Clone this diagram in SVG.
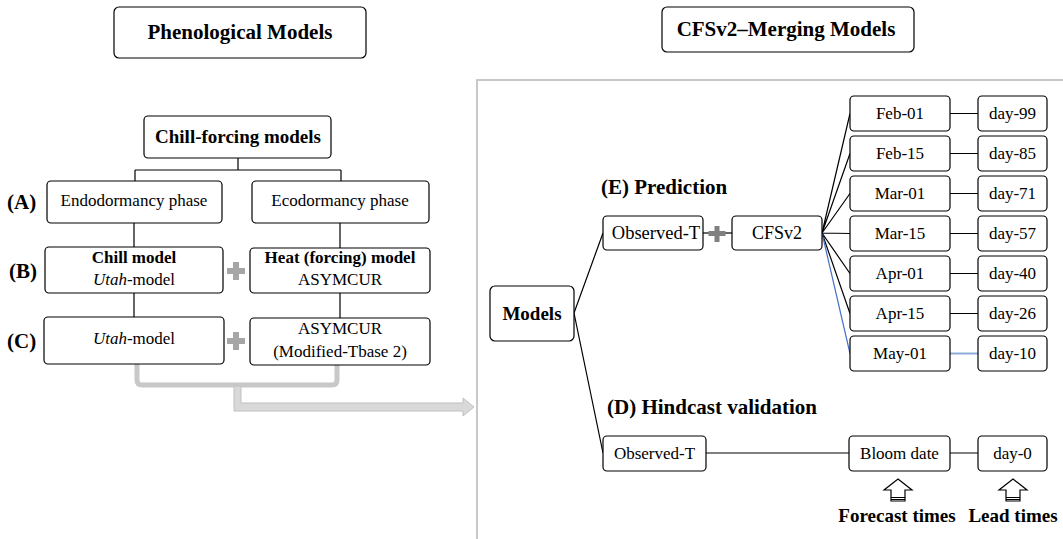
<svg xmlns="http://www.w3.org/2000/svg" width="1063" height="539" viewBox="0 0 1063 539" font-family="'Liberation Serif', 'Times New Roman', Tinos, serif">
<style>
text{font-family:'Liberation Serif','Times New Roman',Tinos,serif}
.box{fill:#fff;stroke:#000;stroke-width:1.2}
.t{font-size:17px;fill:#000;text-anchor:middle}
.b{font-weight:bold}
.s18{font-size:18px}
.s19{font-size:19px}
.s21{font-size:21px}
.lbl{font-size:21px;font-weight:bold;fill:#000}
.ln{stroke:#000;stroke-width:1.2;fill:none}
.blue{stroke:#4472c4;stroke-width:1.2;fill:none}
.lblue{stroke:#8eaadb;stroke-width:2;fill:none}
.plus{fill:#a6a6a6}
.plus2{fill:#808080}
</style>
<rect width="1063" height="539" fill="#fff"/>

<g id="panel-border">
<path d="M477,539 V80 H1063" fill="none" stroke="#c8c8c8" stroke-width="2"/>
</g>

<g id="connectors">
<path class="ln" d="M238,158 V170 M135,170 H341 M135,170 V181 M341,170 V181"/>
<path class="ln" d="M134,223 V247 M340,223 V248 M134,293 V317 M340,293 V318"/>
<path d="M137,364 V380 Q137,385 142,385 H332 Q337,385 337,380 V364" fill="none" stroke="#c8c8c8" stroke-width="5"/>
<path d="M234,386 H241 V403 H463 V398 L474,407 L463,416 V411 H234 Z" fill="#d9d9d9" stroke="#c0c0c0" stroke-width="1"/>
<path class="ln" d="M574,313 L603,233 M574,313 L603,453"/>
<path class="ln" d="M703,233 H732"/>
<path class="ln" d="M822,233 L850,113.5 M822,233 L850,153.5 M822,233 L850,193.5 M822,233 L850,233.5 M822,233 L850,273.5 M822,233 L850,313.5"/>
<path class="blue" d="M822,233 L850,353.5"/>
<path class="ln" d="M950,113.5 H978 M950,153.5 H978 M950,193.5 H978 M950,233.5 H978 M950,273.5 H978 M950,313.5 H978"/>
<path class="lblue" d="M950,353.5 H978"/>
<path class="ln" d="M706,453 H849 M950,453 H978"/>
</g>

<g id="plus-signs">
<path class="plus" d="M233,262 h6 v6 h6 v6 h-6 v6 h-6 v-6 h-6 v-6 h6 z"/>
<path class="plus" d="M233,332 h6 v6 h6 v6 h-6 v6 h-6 v-6 h-6 v-6 h6 z"/>
<path class="plus2" d="M714.5,226 h5 v5 h6 v5 h-6 v6 h-5 v-6 h-6 v-5 h6 z"/>
</g>

<g id="phenological-models">
<rect class="box" x="114" y="7" width="252" height="51" rx="5"/>
<text class="t b s21" x="240" y="39">Phenological Models</text>
</g>

<g id="cfsv2-merging-models">
<rect class="box" x="662" y="7" width="252" height="45" rx="5"/>
<text class="t b s21" x="786" y="36">CFSv2–Merging Models</text>
</g>

<g id="chill-forcing">
<rect class="box" x="144" y="116" width="187" height="42" rx="4"/>
<text class="t b s19" x="238" y="143">Chill-forcing models</text>
</g>

<g id="row-labels">
<text class="lbl" x="7" y="209">(A)</text>
<text class="lbl" x="9" y="278">(B)</text>
<text class="lbl" x="7" y="348">(C)</text>
</g>

<g id="endodormancy">
<rect class="box" x="47" y="181" width="175" height="42" rx="4"/>
<text class="t" x="134" y="206">Endodormancy phase</text>
</g>
<g id="ecodormancy">
<rect class="box" x="252" y="181" width="177" height="42" rx="4"/>
<text class="t" x="340" y="206">Ecodormancy phase</text>
</g>
<g id="chill-model">
<rect class="box" x="45" y="247" width="178" height="46" rx="4"/>
<text class="t b" x="134" y="263">Chill model</text>
<text class="t" x="134" y="285"><tspan font-style="italic">Utah</tspan>-model</text>
</g>
<g id="heat-model">
<rect class="box" x="250" y="248" width="180" height="45" rx="4"/>
<text class="t b" x="340" y="263">Heat (forcing) model</text>
<text class="t" x="340" y="285">ASYMCUR</text>
</g>
<g id="utah-model">
<rect class="box" x="44" y="317" width="180" height="47" rx="4"/>
<text class="t" x="134" y="344"><tspan font-style="italic">Utah</tspan>-model</text>
</g>
<g id="asymcur-modified">
<rect class="box" x="250" y="318" width="180" height="47" rx="4"/>
<text class="t" x="340" y="334">ASYMCUR</text>
<text class="t" x="340" y="357">(Modified-Tbase 2)</text>
</g>

<g id="section-labels">
<text class="lbl" x="601" y="194">(E) Prediction</text>
<text class="lbl" x="607" y="414">(D) Hindcast validation</text>
</g>

<g id="models">
<rect class="box" x="490" y="286" width="84" height="55" rx="5"/>
<text class="t b s19" x="532" y="320">Models</text>
</g>
<g id="observed-t-e">
<rect class="box" x="603" y="216" width="100" height="34" rx="4"/>
<text class="t" x="656" y="239" style="font-size:18.5px">Observed-T</text>
</g>
<g id="cfsv2">
<rect class="box" x="732" y="216" width="90" height="34" rx="4"/>
<text class="t s18" x="777" y="239">CFSv2</text>
</g>

<g id="feb-01"><rect class="box" x="850" y="96" width="100" height="35" rx="4"/><text class="t" x="900" y="119">Feb-01</text></g>
<g id="feb-15"><rect class="box" x="850" y="136" width="100" height="35" rx="4"/><text class="t" x="900" y="159">Feb-15</text></g>
<g id="mar-01"><rect class="box" x="850" y="176" width="100" height="35" rx="4"/><text class="t" x="900" y="199">Mar-01</text></g>
<g id="mar-15"><rect class="box" x="850" y="216" width="100" height="35" rx="4"/><text class="t" x="900" y="239">Mar-15</text></g>
<g id="apr-01"><rect class="box" x="850" y="256" width="100" height="35" rx="4"/><text class="t" x="900" y="279">Apr-01</text></g>
<g id="apr-15"><rect class="box" x="850" y="296" width="100" height="35" rx="4"/><text class="t" x="900" y="319">Apr-15</text></g>
<g id="may-01"><rect class="box" x="850" y="336" width="100" height="35" rx="4"/><text class="t" x="900" y="359">May-01</text></g>

<g id="day-99"><rect class="box" x="978" y="96" width="69" height="35" rx="4"/><text class="t" x="1012.5" y="119">day-99</text></g>
<g id="day-85"><rect class="box" x="978" y="136" width="69" height="35" rx="4"/><text class="t" x="1012.5" y="159">day-85</text></g>
<g id="day-71"><rect class="box" x="978" y="176" width="69" height="35" rx="4"/><text class="t" x="1012.5" y="199">day-71</text></g>
<g id="day-57"><rect class="box" x="978" y="216" width="69" height="35" rx="4"/><text class="t" x="1012.5" y="239">day-57</text></g>
<g id="day-40"><rect class="box" x="978" y="256" width="69" height="35" rx="4"/><text class="t" x="1012.5" y="279">day-40</text></g>
<g id="day-26"><rect class="box" x="978" y="296" width="69" height="35" rx="4"/><text class="t" x="1012.5" y="319">day-26</text></g>
<g id="day-10"><rect class="box" x="978" y="336" width="69" height="35" rx="4"/><text class="t" x="1012.5" y="359">day-10</text></g>

<g id="observed-t-d">
<rect class="box" x="603" y="436" width="103" height="35" rx="4"/>
<text class="t" x="654.5" y="459">Observed-T</text>
</g>
<g id="bloom-date">
<rect class="box" x="849" y="436" width="101" height="35" rx="4"/>
<text class="t" x="899.5" y="459">Bloom date</text>
</g>
<g id="day-0">
<rect class="box" x="978" y="436" width="69" height="35" rx="4"/>
<text class="t" x="1012.5" y="459">day-0</text>
</g>

<g id="forecast-arrow">
<path d="M898,479 L912,490 H905 V501 H891 V490 H884 Z" fill="#fff" stroke="#000" stroke-width="1.2"/>
<path d="M891,497.5 H905 M891,499.5 H905" stroke="#000" stroke-width="1"/>
<text class="t b s19" x="897" y="522">Forecast times</text>
</g>
<g id="lead-arrow">
<path d="M1013,479 L1027,490 H1020 V501 H1006 V490 H999 Z" fill="#fff" stroke="#000" stroke-width="1.2"/>
<path d="M1006,497.5 H1020 M1006,499.5 H1020" stroke="#000" stroke-width="1"/>
<text class="t b s19" x="1013" y="522">Lead times</text>
</g>
</svg>
